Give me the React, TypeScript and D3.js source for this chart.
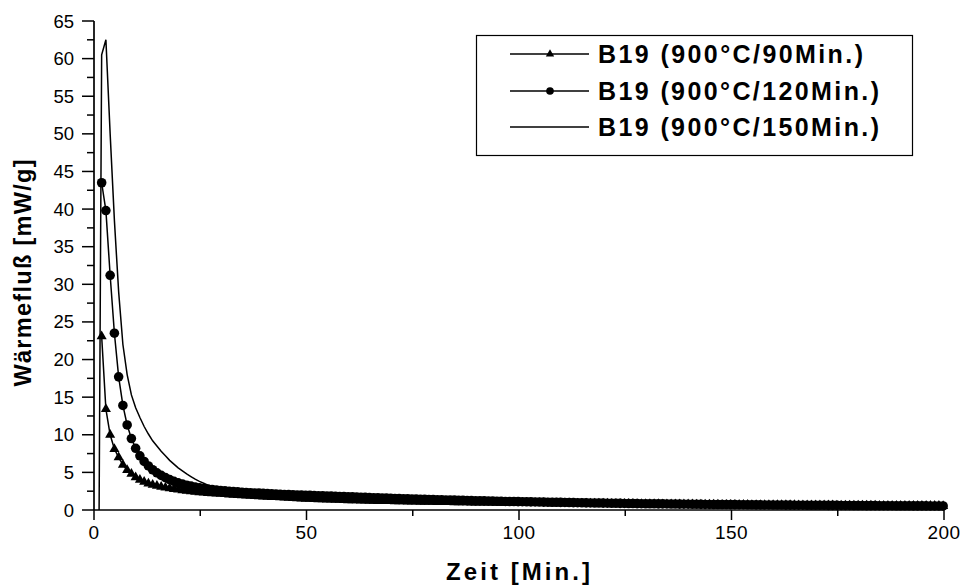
import React from "react";
import * as d3 from "d3";

// ---- data ----
const xTicks = [0, 50, 100, 150, 200];
const yTicks = [0, 5, 10, 15, 20, 25, 30, 35, 40, 45, 50, 55, 60, 65];
const legendLabels = ["B19 (900°C/90Min.)", "B19 (900°C/120Min.)", "B19 (900°C/150Min.)"];

// sampling grid of the measured series (minutes)
const sampleStart = 1.8;
const sampleStep = 1;

// B19 (900°C/90Min.)  – triangles
const values90 = [
  23.1, 13.4, 10.0, 8.1, 7.0, 6.0, 5.3, 4.8, 4.35, 4.0,
  3.75, 3.52, 3.35, 3.2, 3.08, 2.97, 2.87, 2.78, 2.7, 2.62,
  2.55, 2.48, 2.42, 2.36, 2.31, 2.26, 2.22, 2.18, 2.14, 2.1,
  2.06, 2.02, 1.99, 1.95, 1.92, 1.88, 1.85, 1.82, 1.79, 1.76,
  1.73, 1.7, 1.67, 1.64, 1.61, 1.58, 1.55, 1.52, 1.5, 1.47,
  1.45, 1.43, 1.41, 1.39, 1.37, 1.35, 1.34, 1.32, 1.3, 1.29,
  1.27, 1.26, 1.24, 1.23, 1.22, 1.2, 1.19, 1.18, 1.17, 1.16,
  1.15, 1.14, 1.13, 1.12, 1.11, 1.1, 1.09, 1.08, 1.07, 1.06,
  1.05, 1.05, 1.04, 1.03, 1.02, 1.02, 1.01, 1.0, 1.0, 0.99,
  0.98, 0.98, 0.97, 0.96, 0.96, 0.95, 0.95, 0.94, 0.94, 0.93,
  0.93, 0.92, 0.92, 0.91, 0.91, 0.9, 0.9, 0.89, 0.89, 0.88,
  0.88, 0.87, 0.87, 0.86, 0.86, 0.86, 0.85, 0.85, 0.84, 0.84,
  0.83, 0.83, 0.82, 0.82, 0.81, 0.81, 0.8, 0.8, 0.79, 0.79,
  0.78, 0.78, 0.77, 0.77, 0.76, 0.76, 0.75, 0.75, 0.74, 0.74,
  0.73, 0.73, 0.72, 0.72, 0.71, 0.71, 0.7, 0.7, 0.69, 0.69,
  0.68, 0.68, 0.68, 0.67, 0.67, 0.66, 0.66, 0.66, 0.65, 0.65,
  0.65, 0.64, 0.64, 0.64, 0.63, 0.63, 0.63, 0.62, 0.62, 0.62,
  0.61, 0.61, 0.61, 0.6, 0.6, 0.6, 0.59, 0.59, 0.59, 0.58,
  0.58, 0.58, 0.58, 0.57, 0.57, 0.57, 0.56, 0.56, 0.56, 0.56,
  0.55, 0.55, 0.55, 0.55, 0.54, 0.54, 0.54, 0.54, 0.53,
];

// B19 (900°C/120Min.) – circles
const values120 = [
  43.5, 39.8, 31.2, 23.5, 17.7, 13.9, 11.3, 9.5, 8.2, 7.2,
  6.45, 5.85, 5.35, 4.95, 4.6, 4.3, 4.05, 3.82, 3.62, 3.45,
  3.3, 3.17, 3.05, 2.95, 2.86, 2.78, 2.71, 2.65, 2.59, 2.54,
  2.49, 2.45, 2.41, 2.37, 2.33, 2.3, 2.27, 2.24, 2.21, 2.18,
  2.15, 2.12, 2.1, 2.07, 2.05, 2.02, 2.0, 1.98, 1.96, 1.94,
  1.92, 1.9, 1.88, 1.86, 1.84, 1.82, 1.8, 1.78, 1.76, 1.74,
  1.72, 1.7, 1.68, 1.66, 1.64, 1.62, 1.6, 1.58, 1.56, 1.54,
  1.52, 1.5, 1.48, 1.47, 1.45, 1.43, 1.42, 1.4, 1.38, 1.37,
  1.35, 1.34, 1.32, 1.31, 1.29, 1.28, 1.26, 1.25, 1.23, 1.22,
  1.21, 1.19, 1.18, 1.17, 1.16, 1.14, 1.13, 1.12, 1.11, 1.1,
  1.09, 1.08, 1.07, 1.06, 1.05, 1.04, 1.03, 1.02, 1.01, 1.0,
  0.99, 0.98, 0.97, 0.96, 0.95, 0.94, 0.93, 0.92, 0.91, 0.9,
  0.89, 0.89, 0.88, 0.87, 0.86, 0.86, 0.85, 0.84, 0.83, 0.83,
  0.82, 0.81, 0.81, 0.8, 0.79, 0.79, 0.78, 0.77, 0.77, 0.76,
  0.76, 0.75, 0.74, 0.74, 0.73, 0.73, 0.72, 0.72, 0.71, 0.71,
  0.7, 0.7, 0.69, 0.69, 0.68, 0.68, 0.67, 0.67, 0.66, 0.66,
  0.66, 0.65, 0.65, 0.64, 0.64, 0.64, 0.63, 0.63, 0.62, 0.62,
  0.62, 0.61, 0.61, 0.61, 0.6, 0.6, 0.6, 0.59, 0.59, 0.59,
  0.58, 0.58, 0.58, 0.57, 0.57, 0.57, 0.57, 0.56, 0.56, 0.56,
  0.56, 0.55, 0.55, 0.55, 0.55, 0.54, 0.54, 0.54, 0.54,
];

// B19 (900°C/150Min.) – plain line
const times150 = [
  1.2, 1.8, 2.8, 3.8, 4.8, 5.8, 6.8, 7.8, 8.8, 9.8,
  10.8, 11.8, 12.8, 13.8, 14.8, 15.8, 16.8, 17.8, 18.8, 19.8,
  20.8, 21.8, 22.8, 23.8, 24.8, 25.8, 26.8, 27.8, 28.8, 29.8,
  35, 40, 50, 60, 70, 80, 90, 100, 120, 140, 160, 180, 200,
];
const values150 = [
  0, 60.5, 62.5, 50, 38.5, 29, 22, 18, 15.3, 13.6,
  12.3, 11.1, 10.1, 9.2, 8.5, 7.8, 7.2, 6.6, 6.1, 5.6,
  5.2, 4.8, 4.45, 4.1, 3.8, 3.55, 3.3, 3.1, 2.95, 2.8,
  2.4, 2.1, 1.7, 1.45, 1.3, 1.15, 1.05, 0.95, 0.8, 0.7, 0.62, 0.56, 0.52,
];

const FONT = "'Liberation Sans', Arial, Helvetica, sans-serif";

export default function App() {
  const W = 962;
  const H = 587;
  const x = d3.scaleLinear().domain([0, 200]).range([94, 944]);
  const y = d3.scaleLinear().domain([0, 65]).range([510, 21]);

  const pts90 = values90.map((v, i) => [sampleStart + i * sampleStep, v] as [number, number]);
  const pts120 = values120.map((v, i) => [sampleStart + i * sampleStep, v] as [number, number]);
  const pts150 = values150.map((v, i) => [times150[i], v] as [number, number]);

  const line = d3
    .line<[number, number]>()
    .x((d) => x(d[0]))
    .y((d) => y(d[1]));

  const tri = d3.symbol().type(d3.symbolTriangle).size(44)()!;
  const circ = d3.symbol().type(d3.symbolCircle).size(72)()!;
  const triL = d3.symbol().type(d3.symbolTriangle).size(30)()!;
  const circL = d3.symbol().type(d3.symbolCircle).size(46)()!;

  const xMinor = d3.range(0, 201, 25);
  const yMinor = d3.range(0, 65.01, 2.5);

  const legendY = [54, 91, 127];
  const legendW = [265, 281, 281];

  return (
    <svg
      width={W}
      height={H}
      style={{ position: "absolute", left: 0, top: 0, background: "#fff" }}
      fontFamily={FONT}
    >
      <rect x={0} y={0} width={W} height={H} fill="#fff" />

      {/* series */}
      <path d={line(pts150)!} fill="none" stroke="#000" strokeWidth={1.5} />
      <path d={line(pts120)!} fill="none" stroke="#000" strokeWidth={1.5} />
      <path d={line(pts90)!} fill="none" stroke="#000" strokeWidth={1.5} />
      {pts120.map((d, i) => (
        <path key={"c" + i} d={circ} transform={`translate(${x(d[0])},${y(d[1])})`} fill="#000" />
      ))}
      {pts90.map((d, i) => (
        <path key={"t" + i} d={tri} transform={`translate(${x(d[0])},${y(d[1])})`} fill="#000" />
      ))}

      {/* axes */}
      <line x1={x(0)} x2={x(200)} y1={y(0)} y2={y(0)} stroke="#000" strokeWidth={1.7} />
      <line x1={x(0)} x2={x(0)} y1={y(0)} y2={y(65)} stroke="#000" strokeWidth={1.7} />
      {xMinor.map((t) => (
        <line
          key={"xm" + t}
          x1={x(t)}
          x2={x(t)}
          y1={y(0)}
          y2={y(0) + (t % 50 === 0 ? 10 : 6)}
          stroke="#000"
          strokeWidth={1.5}
        />
      ))}
      {yMinor.map((t) => (
        <line
          key={"ym" + t}
          x1={x(0)}
          x2={x(0) - (t % 5 === 0 ? 12 : 7)}
          y1={y(t)}
          y2={y(t)}
          stroke="#000"
          strokeWidth={1.5}
        />
      ))}
      {xTicks.map((t) => (
        <text key={"xt" + t} x={x(t)} y={539} textAnchor="middle" fontSize={19} letterSpacing={0.5}>
          {t}
        </text>
      ))}
      {yTicks.map((t) => (
        <text key={"yt" + t} x={74} y={y(t) + 6.5} textAnchor="end" fontSize={18.5}>
          {t}
        </text>
      ))}

      {/* axis titles */}
      <text
        x={518}
        y={580}
        textAnchor="middle"
        fontSize={24}
        fontWeight="bold"
        textLength={144}
        lengthAdjust="spacing"
      >
        Zeit [Min.]
      </text>
      <text
        transform={`translate(31,273) rotate(-90)`}
        textAnchor="middle"
        fontSize={23.5}
        fontWeight="bold"
        textLength={227}
        lengthAdjust="spacing"
      >
        Wärmefluß [mW/g]
      </text>

      {/* legend */}
      <rect x={476.5} y={35.5} width={436} height={120} fill="#fff" stroke="#000" strokeWidth={1.2} />
      {legendLabels.map((lab, i) => (
        <g key={"lg" + i}>
          <line x1={510} x2={589} y1={legendY[i]} y2={legendY[i]} stroke="#000" strokeWidth={1.3} />
          {i === 0 && <path d={triL} transform={`translate(550,${legendY[i]})`} fill="#000" />}
          {i === 1 && <path d={circL} transform={`translate(550,${legendY[i]})`} fill="#000" />}
          <text
            x={598}
            y={legendY[i] + 9}
            fontSize={25}
            fontWeight="bold"
            textLength={legendW[i]}
            lengthAdjust="spacing"
          >
            {lab}
          </text>
        </g>
      ))}
    </svg>
  );
}
